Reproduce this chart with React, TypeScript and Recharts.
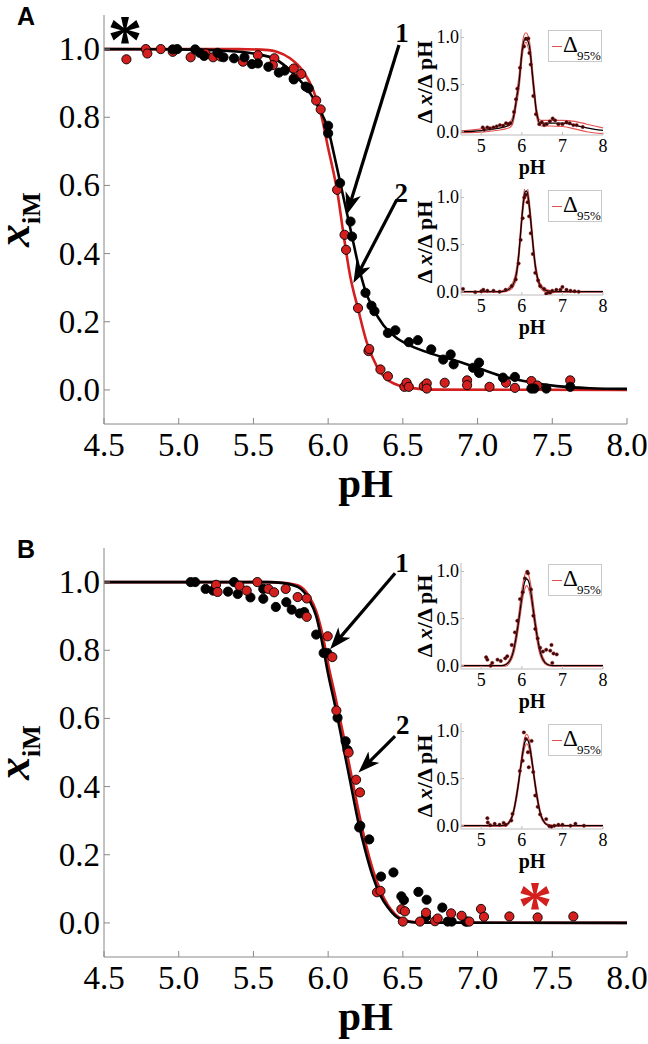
import React from 'react';
import { ComposedChart, Line, Scatter, XAxis, YAxis, ReferenceLine, ReferenceDot, Legend } from 'recharts';

type P = [number, number];
const xy = (a: P[]) => a.map(([x, y]) => ({ x, y }));

const SERIF = '"Liberation Serif", "Times New Roman", serif';
const SANS = '"Liberation Sans", Arial, sans-serif';
const RED = '#d41f1f';
const RED_BAND = '#e8504f';

// ---------- tick labels ----------
const mainXTicks = [4.5, 5.0, 5.5, 6.0, 6.5, 7.0, 7.5, 8.0];
const mainYTicks = [0, 0.2, 0.4, 0.6, 0.8, 1.0];
const insetXTicks = [5, 6, 7, 8];
const insetYTicks = [0, 0.5, 1.0];

// ---------- panel A ----------
const aRedCurve: P[] = [[4.5,1.0],[5.4,1.0],[5.6,0.997],[5.656,0.992],[5.745,0.973],[5.834,0.934],[5.9,0.88],[5.957,0.8],[6.0,0.71],[6.035,0.64],[6.06,0.585],[6.1,0.465],[6.147,0.335],[6.2,0.238],[6.258,0.14],[6.325,0.07],[6.41,0.026],[6.55,0.006],[6.7,0.001],[8.0,0.0]];
const aBlackCurve: P[] = [[4.5,1.0],[5.0,0.999],[5.3,0.995],[5.5,0.987],[5.656,0.968],[5.745,0.938],[5.81,0.909],[5.88,0.87],[5.946,0.82],[6.0,0.765],[6.04,0.69],[6.08,0.61],[6.12,0.53],[6.16,0.45],[6.2,0.37],[6.25,0.29],[6.3,0.24],[6.37,0.19],[6.45,0.155],[6.55,0.13],[6.7,0.105],[6.86,0.085],[7.0,0.065],[7.15,0.042],[7.31,0.026],[7.53,0.011],[7.75,0.005],[8.0,0.003]];
const aRedPts: P[] = [[4.65,0.97],[4.78,1.0],[4.79,0.987],[4.88,1.0],[4.96,0.992],[5.08,0.976],[5.18,0.987],[5.23,0.976],[5.28,0.978],[5.43,0.963],[5.53,0.982],[5.64,0.973],[5.63,0.953],[5.77,0.943],[5.82,0.927],[5.77,0.914],[5.92,0.849],[5.95,0.823],[6.06,0.587],[6.11,0.455],[6.12,0.411],[6.2,0.24],[6.27,0.114],[6.275,0.12],[6.35,0.06],[6.4,0.04],[6.51,0.009],[6.525,0.021],[6.54,0.009],[6.64,0.011],[6.66,0.019],[6.66,0.004],[6.78,0.021],[6.93,0.028],[6.93,0.014],[7.08,0.009],[7.19,0.021],[7.25,0.006],[7.36,0.026],[7.4,0.013],[7.62,0.028]];
const aBlackPts: P[] = [[4.96,0.999],[4.99,1.0],[5.11,0.999],[5.14,0.989],[5.17,0.98],[5.26,0.989],[5.3,0.976],[5.37,0.973],[5.44,0.976],[5.49,0.956],[5.53,0.958],[5.6,0.948],[5.67,0.931],[5.71,0.937],[5.77,0.911],[5.85,0.89],[5.87,0.885],[6.0,0.775],[6.0,0.753],[6.08,0.607],[6.15,0.494],[6.16,0.45],[6.25,0.285],[6.29,0.247],[6.31,0.231],[6.4,0.167],[6.45,0.175],[6.54,0.14],[6.6,0.146],[6.69,0.119],[6.77,0.089],[6.82,0.104],[6.84,0.075],[6.97,0.065],[7.01,0.08],[7.01,0.05],[7.17,0.036],[7.25,0.038],[7.36,0.004],[7.38,0.004],[7.46,0.004],[7.62,0.009]];

// inset A1
const a1Black: P[] = [[4.5,0.0],[4.8,0.005],[5.0,0.012],[5.2,0.022],[5.4,0.035],[5.6,0.055],[5.72,0.08],[5.78,0.13],[5.83,0.24],[5.88,0.38],[5.93,0.52],[5.97,0.7],[6.01,0.87],[6.05,0.96],[6.1,1.0],[6.15,0.96],[6.2,0.87],[6.24,0.7],[6.28,0.52],[6.32,0.36],[6.35,0.24],[6.39,0.15],[6.43,0.1],[6.5,0.09],[6.7,0.09],[7.0,0.09],[7.2,0.08],[7.4,0.06],[7.6,0.04],[7.8,0.025],[8.0,0.015]];
const a1Upper: P[] = [[4.5,0.01],[5.0,0.03],[5.4,0.06],[5.6,0.085],[5.72,0.11],[5.78,0.17],[5.83,0.29],[5.88,0.44],[5.93,0.6],[5.97,0.78],[6.01,0.93],[6.05,1.02],[6.1,1.05],[6.15,1.02],[6.2,0.93],[6.24,0.77],[6.28,0.59],[6.32,0.42],[6.35,0.29],[6.39,0.19],[6.43,0.13],[6.5,0.12],[6.7,0.12],[7.0,0.12],[7.3,0.11],[7.6,0.08],[8.0,0.04]];
const a1Lower: P[] = [[4.5,-0.01],[5.0,-0.005],[5.4,0.015],[5.6,0.03],[5.72,0.05],[5.78,0.09],[5.83,0.19],[5.88,0.32],[5.93,0.45],[5.97,0.62],[6.01,0.8],[6.05,0.9],[6.1,0.95],[6.15,0.9],[6.2,0.8],[6.24,0.63],[6.28,0.45],[6.32,0.3],[6.35,0.19],[6.39,0.11],[6.43,0.07],[6.5,0.06],[6.7,0.06],[7.0,0.055],[7.3,0.03],[7.6,0.0],[8.0,-0.02]];
const a1Pts: P[] = [[5.035,0.046],[5.07,0.02],[5.15,0.046],[5.21,0.035],[5.3,0.046],[5.38,0.057],[5.46,0.07],[5.54,0.063],[5.61,0.09],[5.67,0.08],[5.72,0.09],[5.806,0.21],[5.856,0.344],[5.888,0.457],[5.954,0.678],[6.053,0.905],[6.102,0.983],[6.16,0.99],[6.186,0.835],[6.218,0.713],[6.283,0.379],[6.349,0.186],[6.43,0.08],[6.49,0.1],[6.55,0.07],[6.61,0.08],[6.69,0.11],[6.76,0.14],[6.82,0.12],[6.9,0.08],[7.0,0.08],[7.1,0.1],[7.18,0.09],[7.27,0.07],[7.35,0.07],[7.5,0.05]];

// inset A2
const a2Black: P[] = [[4.5,0],[5.4,0],[5.6,0.01],[5.7,0.035],[5.8,0.09],[5.87,0.2],[5.93,0.42],[5.98,0.68],[6.03,0.92],[6.08,1.06],[6.12,1.07],[6.16,0.99],[6.21,0.8],[6.27,0.52],[6.33,0.28],[6.4,0.12],[6.5,0.04],[6.6,0.012],[6.8,0],[8,0]];
const a2Upper: P[] = [[4.5,0.005],[5.4,0.005],[5.6,0.02],[5.7,0.055],[5.8,0.12],[5.87,0.25],[5.93,0.48],[5.98,0.74],[6.03,0.98],[6.08,1.11],[6.12,1.12],[6.16,1.05],[6.21,0.86],[6.27,0.58],[6.33,0.33],[6.4,0.15],[6.5,0.06],[6.6,0.025],[6.8,0.005],[8,0.005]];
const a2Lower: P[] = [[4.5,-0.005],[5.5,-0.005],[5.7,0.015],[5.8,0.06],[5.87,0.15],[5.93,0.36],[5.98,0.62],[6.03,0.86],[6.08,1.0],[6.12,1.02],[6.16,0.93],[6.21,0.74],[6.27,0.46],[6.33,0.23],[6.4,0.09],[6.5,0.02],[6.6,-0.005],[6.7,-0.015],[6.85,-0.005],[8,-0.005]];
const a2Pts: P[] = [[4.55,0.03],[4.85,-0.005],[5.0,0.005],[5.05,0.02],[5.15,0.01],[5.3,0.01],[5.45,0.0],[5.6,0.02],[5.75,0.06],[5.85,0.13],[5.92,0.3],[5.97,0.55],[6.02,0.78],[6.06,1.0],[6.1,1.03],[6.14,0.95],[6.18,0.8],[6.22,0.62],[6.27,0.4],[6.33,0.2],[6.4,0.12],[6.45,0.06],[6.55,0.03],[6.6,-0.02],[6.65,-0.01],[6.7,-0.01],[6.75,0.01],[6.85,0.02],[6.95,0.02],[7.0,0.05],[7.1,0.02],[7.2,0.01],[7.3,0.005],[7.4,0.0]];

// ---------- panel B ----------
const bBlackCurve: P[] = [[4.5,1.0],[5.6,1.0],[5.7,0.997],[5.8,0.985],[5.87,0.95],[5.92,0.9],[5.97,0.8],[6.0,0.73],[6.05,0.63],[6.1,0.52],[6.15,0.41],[6.2,0.3],[6.25,0.21],[6.3,0.135],[6.35,0.08],[6.4,0.045],[6.45,0.02],[6.5,0.008],[6.6,0.001],[8.0,0.0]];
const bRedCurve: P[] = [[4.5,1.0],[5.6,1.0],[5.7,0.998],[5.8,0.99],[5.87,0.96],[5.92,0.915],[5.97,0.83],[6.0,0.76],[6.05,0.66],[6.1,0.555],[6.15,0.445],[6.2,0.335],[6.25,0.235],[6.3,0.155],[6.35,0.095],[6.4,0.052],[6.45,0.025],[6.5,0.01],[6.6,0.001],[8.0,0.0]];
const bBlackPts: P[] = [[5.08,1.0],[5.11,1.0],[5.18,0.98],[5.23,0.975],[5.33,0.972],[5.37,1.0],[5.395,0.965],[5.48,0.955],[5.566,0.98],[5.566,0.951],[5.65,0.927],[5.72,0.941],[5.756,0.919],[5.81,0.908],[5.84,0.912],[5.92,0.846],[5.97,0.792],[5.995,0.792],[6.063,0.602],[6.117,0.533],[6.13,0.507],[6.208,0.28],[6.215,0.285],[6.275,0.245],[6.354,0.136],[6.437,0.148],[6.49,0.078],[6.507,0.067],[6.604,0.091],[6.659,0.068],[6.764,0.045],[6.655,0.018],[6.8,0.004],[6.827,0.004],[6.92,0.004],[6.93,0.004]];
const bRedPts: P[] = [[5.25,0.992],[5.26,0.971],[5.406,0.989],[5.455,0.975],[5.526,1.0],[5.6,0.98],[5.638,0.97],[5.716,0.98],[5.796,0.956],[5.857,0.952],[5.857,0.898],[5.997,0.841],[6.028,0.78],[6.055,0.623],[6.137,0.5],[6.187,0.42],[6.213,0.383],[6.327,0.09],[6.35,0.094],[6.49,0.04],[6.514,0.034],[6.5,0.004],[6.615,0.004],[6.655,0.03],[6.715,0.005],[6.733,0.013],[6.823,0.028],[6.893,0.021],[6.945,0.004],[7.023,0.041],[7.043,0.018],[7.213,0.019],[7.402,0.016],[7.641,0.019]];

// inset B1
const b1Black: P[] = [[4.5,0],[5.5,0],[5.62,0.015],[5.72,0.065],[5.77,0.12],[5.82,0.21],[5.87,0.33],[5.92,0.47],[5.97,0.63],[6.02,0.78],[6.07,0.89],[6.12,0.92],[6.17,0.89],[6.22,0.78],[6.27,0.63],[6.32,0.47],[6.37,0.33],[6.42,0.21],[6.47,0.12],[6.52,0.065],[6.62,0.015],[6.75,0],[8,0]];
const b1Upper: P[] = [[4.5,0.005],[5.5,0.005],[5.62,0.025],[5.72,0.09],[5.77,0.155],[5.82,0.255],[5.87,0.39],[5.92,0.54],[5.97,0.71],[6.02,0.86],[6.07,0.96],[6.12,1.0],[6.17,0.96],[6.22,0.86],[6.27,0.71],[6.32,0.54],[6.37,0.39],[6.42,0.255],[6.47,0.155],[6.52,0.09],[6.62,0.025],[6.75,0.005],[8,0.005]];
const b1Lower: P[] = [[4.5,-0.005],[5.6,-0.005],[5.72,0.045],[5.77,0.09],[5.82,0.16],[5.87,0.27],[5.92,0.41],[5.97,0.56],[6.02,0.71],[6.07,0.81],[6.12,0.85],[6.17,0.81],[6.22,0.71],[6.27,0.56],[6.32,0.41],[6.37,0.27],[6.42,0.16],[6.47,0.09],[6.52,0.045],[6.62,0.005],[6.75,-0.005],[8,-0.005]];
const b1Pts: P[] = [[5.12,0.09],[5.15,0.064],[5.23,0.0],[5.27,0.03],[5.4,0.064],[5.48,0.05],[5.59,0.078],[5.64,0.1],[5.75,0.22],[5.83,0.354],[5.888,0.477],[5.954,0.707],[6.02,0.78],[6.077,0.927],[6.135,0.997],[6.15,0.98],[6.225,0.81],[6.283,0.53],[6.33,0.39],[6.39,0.29],[6.45,0.19],[6.52,0.15],[6.6,0.17],[6.7,0.16],[6.73,0.22],[6.75,0.03],[6.78,0.13],[6.86,0.12]];

// inset B2
const b2Black: P[] = [[4.5,0],[5.5,0],[5.62,0.01],[5.72,0.06],[5.77,0.11],[5.82,0.2],[5.87,0.32],[5.92,0.46],[5.97,0.62],[6.02,0.77],[6.07,0.88],[6.12,0.92],[6.17,0.88],[6.22,0.77],[6.27,0.62],[6.32,0.46],[6.37,0.32],[6.42,0.2],[6.47,0.11],[6.52,0.06],[6.62,0.01],[6.75,0],[8,0]];
const b2Upper: P[] = [[4.5,0.005],[5.5,0.005],[5.62,0.02],[5.72,0.075],[5.77,0.13],[5.82,0.23],[5.87,0.36],[5.92,0.5],[5.97,0.66],[6.02,0.82],[6.07,0.93],[6.12,0.97],[6.17,0.93],[6.22,0.82],[6.27,0.66],[6.32,0.5],[6.37,0.36],[6.42,0.23],[6.47,0.13],[6.52,0.075],[6.62,0.02],[6.75,0.005],[8,0.005]];
const b2Lower: P[] = [[4.5,-0.005],[5.6,-0.005],[5.72,0.045],[5.77,0.09],[5.82,0.17],[5.87,0.28],[5.92,0.42],[5.97,0.58],[6.02,0.72],[6.07,0.83],[6.12,0.87],[6.17,0.83],[6.22,0.72],[6.27,0.58],[6.32,0.42],[6.37,0.28],[6.42,0.17],[6.47,0.09],[6.52,0.045],[6.62,0.005],[6.75,-0.005],[8,-0.005]];
const b2Pts: P[] = [[5.15,0.08],[5.16,0.034],[5.22,0.006],[5.33,0.02],[5.45,0.01],[5.55,0.03],[5.6,0.01],[5.74,0.056],[5.77,0.126],[5.95,0.58],[6.02,0.69],[6.05,0.99],[6.1,0.92],[6.15,0.78],[6.17,0.62],[6.24,0.9],[6.28,0.57],[6.33,0.32],[6.39,0.2],[6.45,0.12],[6.6,0.07],[6.68,-0.005],[6.73,-0.01],[6.8,0.0],[6.9,0.01],[7.0,0.01],[7.2,0.0],[7.32,0.02],[7.53,0.0]];

// ---------- annotations (data coordinates) ----------
const aArrows: [number, number, number, number][] = [[6.474, 1.012, 6.124, 0.514], [6.459, 0.558, 6.169, 0.314]];
const aTags: [string, number, number][] = [['1', 6.495, 1.02], ['2', 6.49, 0.552]];
const aStar: [number, number] = [4.64, 1.056];
const bArrows: [number, number, number, number][] = [[6.448, 1.026, 6.013, 0.803], [6.448, 0.548, 6.203, 0.441]];
const bTags: [string, number, number][] = [['1', 6.495, 1.03], ['2', 6.5, 0.553]];
const bStar: [number, number] = [7.385, 0.078];

const bigDot = (fill: string) => (p: any) => (
  <circle cx={p.cx} cy={p.cy} r={4.6} fill={fill} stroke="#000" strokeWidth={0.9} />
);
const smallDot = (p: any) => <circle cx={p.cx} cy={p.cy} r={1.7} fill="#3a0606" stroke="#8a1a1a" strokeWidth={0.5} />;

const valOf = (p: any) => (p && p.payload ? p.payload.value : 0);

function MainPanel(props: any) {
  const { top, height, letter, redCurve, blackCurve, redPts, blackPts, arrows, tags, star, starColor, redFirst, id } = props;
  const plotTop = 15;
  const plotH = 409;
  const xAxisH = height - plotTop - plotH;
  const mid = plotTop + plotH / 2;
  const yTitle = () => (
    <g>
      <text x={17} y={25} fontFamily={SANS} fontWeight="bold" fontSize={25} fill="#000">{letter}</text>
      <text x={29} y={mid} transform={`rotate(-90 29 ${mid})`} textAnchor="middle" fontFamily={SERIF} fontWeight="bold" fill="#000">
        <tspan fontStyle="italic" fontSize={46}>x</tspan>
        <tspan fontSize={26} dy={11}>iM</tspan>
      </text>
    </g>
  );
  const xTitle = () => (
    <text x={365.5} y={497} textAnchor="middle" fontFamily={SERIF} fontWeight="bold" fontSize={41} fill="#000">pH</text>
  );
  const xTick = (p: any) => (
    <text x={p.x} y={p.y + 23} textAnchor="middle" fontFamily={SERIF} fontSize={33} fill="#000">{Number(valOf(p)).toFixed(1)}</text>
  );
  const yTick = (p: any) => (
    <text x={p.x} y={p.y + 11} textAnchor="end" fontFamily={SERIF} fontSize={33} fill="#000">{Number(valOf(p)).toFixed(1)}</text>
  );
  const redScatter = <Scatter key="rs" xAxisId="b" yAxisId="l" data={xy(redPts)} dataKey="y" shape={bigDot(RED)} isAnimationActive={false} />;
  const blackScatter = <Scatter key="bs" xAxisId="b" yAxisId="l" data={xy(blackPts)} dataKey="y" shape={bigDot('#000')} isAnimationActive={false} />;
  return (
    <div style={{ position: 'absolute', left: 0, top, width: 648, height }}>
      <ComposedChart width={648} height={height} margin={{ top: plotTop, right: 21, left: 0, bottom: 0 }}>
        <defs>
          <marker id={id} viewBox="0 0 22 16" refX={12} refY={8} markerWidth={22} markerHeight={16} markerUnits="userSpaceOnUse" orient="auto">
            <path d="M0,0 L22,8 L0,16 L6,8 Z" fill="#000" />
          </marker>
        </defs>
        <XAxis xAxisId="b" type="number" dataKey="x" domain={[4.5, 8]} allowDataOverflow ticks={mainXTicks}
          height={xAxisH} stroke="#888" tickSize={-6} tickMargin={15}
          tick={xTick} interval={0} label={{ content: xTitle }} />
        <XAxis xAxisId="t" orientation="top" type="number" dataKey="x" domain={[4.5, 8]} allowDataOverflow ticks={mainXTicks}
          tickFormatter={() => ''} height={0} stroke="#888" tickSize={-6} interval={0} />
        <YAxis yAxisId="l" type="number" dataKey="y" domain={[-0.1, 1.1]} allowDataOverflow ticks={mainYTicks}
          width={104} stroke="#888" tickSize={-6} tickMargin={10}
          tick={yTick} interval={0} label={{ content: yTitle }} />
        <YAxis yAxisId="r" orientation="right" type="number" dataKey="y" domain={[-0.1, 1.1]} allowDataOverflow ticks={mainYTicks}
          tickFormatter={() => ''} width={0} stroke="#666" tickSize={-6} interval={0} />
        <Line xAxisId="b" yAxisId="l" data={xy(redCurve)} dataKey="y" type="monotone" stroke={RED} strokeWidth={2.6} dot={false} isAnimationActive={false} />
        <Line xAxisId="b" yAxisId="l" data={xy(blackCurve)} dataKey="y" type="monotone" stroke="#000" strokeWidth={2.6} dot={false} isAnimationActive={false} />
        {redFirst ? redScatter : blackScatter}
        {redFirst ? blackScatter : redScatter}
        {arrows.map((a: number[], i: number) => (
          <ReferenceLine key={'ar' + i} xAxisId="b" yAxisId="l" ifOverflow="visible"
            segment={[{ x: a[0], y: a[1] }, { x: a[2], y: a[3] }]}
            shape={(p: any) => {
              const dx = p.x2 - p.x1, dy = p.y2 - p.y1;
              const L = Math.sqrt(dx * dx + dy * dy) || 1;
              const ex = p.x2 - (dx / L) * 10, ey = p.y2 - (dy / L) * 10;
              return <line x1={p.x1} y1={p.y1} x2={ex} y2={ey} stroke="#000" strokeWidth={3.2} markerEnd={`url(#${id})`} />;
            }} />
        ))}
        {tags.map((t: any, i: number) => (
          <ReferenceDot key={'tg' + i} xAxisId="b" yAxisId="l" x={t[1]} y={t[2]} r={0} ifOverflow="visible"
            shape={(p: any) => <text x={p.cx} y={p.cy} textAnchor="middle" fontFamily={SERIF} fontWeight="bold" fontSize={27} fill="#000">{t[0]}</text>} />
        ))}
        <ReferenceDot xAxisId="b" yAxisId="l" x={star[0]} y={star[1]} r={0} ifOverflow="visible"
          shape={(p: any) => <text x={p.cx} y={p.cy + 33} textAnchor="middle" fontFamily={SERIF} fontWeight="bold" fontSize={70} fill={starColor}>*</text>} />
      </ComposedChart>
    </div>
  );
}

const InsetLegend = () => (
  <div style={{ width: 54, height: 32, border: '1px solid #c8c8c8', boxSizing: 'border-box', background: '#fff', position: 'relative', fontFamily: SERIF, color: '#000' }}>
    <div style={{ position: 'absolute', left: 3, top: 15, width: 10, height: 0, borderTop: `1.3px solid ${RED_BAND}` }} />
    <span style={{ position: 'absolute', left: 14, top: 2, fontSize: 23, lineHeight: '23px' }}>Δ</span>
    <span style={{ position: 'absolute', left: 28, top: 18, fontSize: 13, lineHeight: '13px' }}>95%</span>
  </div>
);

function Inset(props: any) {
  const { plotTop, black, upper, lower, pts } = props;
  const padTop = 10, plotH = 106, xAxisH = 46;
  const W = 205, H = padTop + plotH + xAxisH;
  const cy = padTop + plotH / 2;
  const yTitle = () => (
    <text x={27} y={cy} transform={`rotate(-90 27 ${cy})`} textAnchor="middle" fontFamily={SERIF} fontWeight="bold" fontSize={22} fill="#000">
      <tspan>Δ </tspan><tspan fontStyle="italic">x</tspan><tspan>/Δ pH</tspan>
    </text>
  );
  const xTitle = () => (
    <text x={127} y={padTop + plotH + 39} textAnchor="middle" fontFamily={SERIF} fontWeight="bold" fontSize={20} fill="#000">pH</text>
  );
  const xTick = (p: any) => (
    <text x={p.x} y={p.y + 11} textAnchor="middle" fontFamily={SERIF} fontSize={18} fill="#000">{String(valOf(p))}</text>
  );
  const yTick = (p: any) => (
    <text x={p.x} y={p.y + 6} textAnchor="end" fontFamily={SERIF} fontSize={18} fill="#000">{Number(valOf(p)).toFixed(1)}</text>
  );
  return (
    <div style={{ position: 'absolute', left: 405, top: plotTop - padTop, width: W, height: H }}>
      <ComposedChart width={W} height={H} margin={{ top: padTop, right: 7, left: 0, bottom: 0 }}>
        <XAxis xAxisId="b" type="number" dataKey="x" domain={[4.5, 8]} allowDataOverflow ticks={insetXTicks} interval={0}
          height={xAxisH} stroke="#bbb" tickSize={-3} tickMargin={9} tick={xTick} label={{ content: xTitle }} />
        <XAxis xAxisId="t" orientation="top" type="number" dataKey="x" domain={[4.5, 8]} allowDataOverflow height={0}
          stroke="#ccc" tick={false} tickLine={false} />
        <YAxis yAxisId="l" type="number" dataKey="y" domain={[-0.035, 1.09]} allowDataOverflow ticks={insetYTicks} interval={0}
          width={56} stroke="#bbb" tickSize={-3} tickMargin={5} tick={yTick}
          label={{ content: yTitle }} />
        <YAxis yAxisId="r" orientation="right" type="number" dataKey="y" domain={[-0.035, 1.09]} allowDataOverflow width={0}
          stroke="#ccc" tick={false} tickLine={false} />
        <Line xAxisId="b" yAxisId="l" data={xy(upper)} dataKey="y" type="monotone" stroke={RED_BAND} strokeWidth={1.1} dot={false} isAnimationActive={false} />
        <Line xAxisId="b" yAxisId="l" data={xy(lower)} dataKey="y" type="monotone" stroke={RED_BAND} strokeWidth={1.1} dot={false} isAnimationActive={false} />
        <Line xAxisId="b" yAxisId="l" data={xy(black)} dataKey="y" type="monotone" stroke="#000" strokeWidth={1.3} dot={false} isAnimationActive={false} />
        <Scatter xAxisId="b" yAxisId="l" data={xy(pts)} dataKey="y" shape={smallDot} isAnimationActive={false} />
        <Legend layout="vertical" align="center" verticalAlign="middle" content={InsetLegend}
          wrapperStyle={{ position: 'absolute', left: 143, top: padTop + 1, width: 54, height: 32 }} />
      </ComposedChart>
    </div>
  );
}

export default function App() {
  return (
    <div style={{ position: 'absolute', left: 0, top: 0, width: 648, height: 1044, background: '#fff', overflow: 'hidden' }}>
      <MainPanel id="arrA" top={0} height={520} letter="A" redCurve={aRedCurve} blackCurve={aBlackCurve}
        redPts={aRedPts} blackPts={aBlackPts} arrows={aArrows} tags={aTags} star={aStar} starColor="#000" redFirst={true} />
      <MainPanel id="arrB" top={533} height={511} letter="B" redCurve={bRedCurve} blackCurve={bBlackCurve}
        redPts={bRedPts} blackPts={bBlackPts} arrows={bArrows} tags={bTags} star={bStar} starColor={RED} redFirst={false} />
      <Inset plotTop={29} black={a1Black} upper={a1Upper} lower={a1Lower} pts={a1Pts} />
      <Inset plotTop={189} black={a2Black} upper={a2Upper} lower={a2Lower} pts={a2Pts} />
      <Inset plotTop={563} black={b1Black} upper={b1Upper} lower={b1Lower} pts={b1Pts} />
      <Inset plotTop={723} black={b2Black} upper={b2Upper} lower={b2Lower} pts={b2Pts} />
    </div>
  );
}
